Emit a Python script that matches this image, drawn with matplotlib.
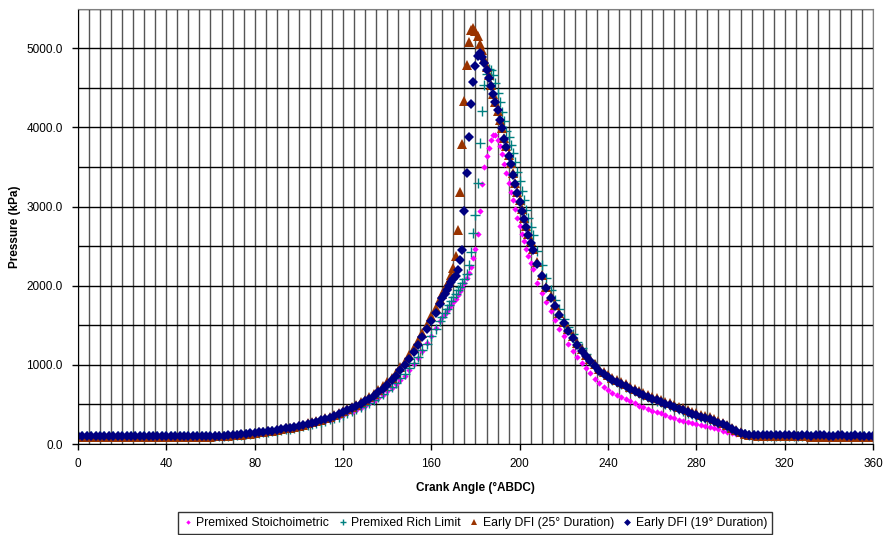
import numpy as np
import matplotlib
matplotlib.use("Agg")
import matplotlib.pyplot as plt
from matplotlib.ticker import MultipleLocator

# =========================================================
# DATA  (pressure in kPa)
# =========================================================

# crank angle: 2 deg steps away from the peak, 1 deg steps around it
ANGLE_LOW = np.arange(0, 165, 2)      # 0 .. 164
ANGLE_PEAK = np.arange(165, 206, 1)   # 165 .. 205
ANGLE_TAIL = np.arange(206, 361, 2)   # 206 .. 360
angle = np.concatenate([ANGLE_LOW, ANGLE_PEAK, ANGLE_TAIL])

labels = [
    "Premixed Stoichoimetric",
    "Premixed Rich Limit",
    "Early DFI (25\u00b0 Duration)",
    "Early DFI (19\u00b0 Duration)",
]

stoich_low = [95, 97, 98, 96, 97, 99, 98, 96, 97, 98, 96, 97, 98, 97, 96, 98,
              97, 96, 98, 97, 96, 98, 97, 96, 97, 98, 96, 97, 98, 99, 100,
              100, 102, 104, 107, 111, 115, 119, 124, 129, 135, 141, 147, 154,
              161, 169, 177, 186, 195, 205, 216, 227, 239, 252, 265, 279, 294,
              310, 327, 345, 365, 386, 409, 433, 459, 487, 517, 550, 585, 623,
              664, 708, 756, 808, 864, 935, 1010, 1090, 1180, 1275, 1370, 1465,
              1560]
stoich_peak = [1600, 1640, 1680, 1720, 1760, 1800, 1835, 1880, 1930, 1990,
               2040, 2100, 2160, 2240, 2350, 2460, 2650, 2950, 3280, 3500,
               3640, 3740, 3840, 3910, 3900, 3840, 3760, 3660, 3540, 3420,
               3300, 3190, 3080, 2970, 2860, 2760, 2660, 2560, 2460, 2370,
               2290]
stoich_tail = [2210, 2040, 1910, 1790, 1680, 1565, 1455, 1360, 1270, 1180,
               1100, 1030, 965, 895, 825, 765, 720, 680, 650, 620, 595, 568,
               542, 515, 485, 462, 442, 422, 403, 386, 366, 346, 326, 308, 292,
               277, 263, 250, 238, 225, 212, 198, 184, 170, 157, 145, 132, 120,
               112, 107, 105,
               104, 103, 105, 104, 103, 102, 104, 103, 102, 101, 103, 102, 101,
               100, 102, 101, 100, 99, 101, 100, 99, 98, 100, 99, 98, 97, 96]

rich_low = [96, 98, 99, 97, 98, 100, 99, 97, 98, 99, 97, 98, 99, 98, 97, 99,
            98, 97, 99, 98, 97, 99, 98, 97, 98, 99, 97, 98, 99, 100, 101,
            101, 103, 105, 108, 112, 116, 120, 125, 130, 136, 142, 148, 155,
            162, 170, 178, 187, 196, 206, 217, 228, 240, 253, 267, 281, 296,
            312, 329, 348, 368, 390, 413, 437, 463, 492, 523, 557, 594, 634,
            677, 724, 775, 830, 890, 960, 1030, 1105, 1185, 1270, 1360, 1450,
            1560]
rich_peak = [1610, 1660, 1710, 1760, 1810, 1855, 1900, 1945, 1990, 2035,
             2080, 2150, 2260, 2430, 2670, 2900, 3300, 3800, 4210, 4530,
             4680, 4740, 4720, 4660, 4560, 4440, 4320, 4200, 4080, 3960,
             3880, 3780, 3680, 3560, 3440, 3320, 3200, 3080, 2960, 2850,
             2740]
rich_tail = [2640, 2440, 2260, 2100, 1950, 1820, 1700, 1585, 1480, 1385,
             1295, 1210, 1135, 1065, 1000, 935, 885, 845, 810, 782, 755, 725,
             695, 665, 640, 615, 592, 570, 548, 525, 505, 485, 462, 440, 418,
             398, 378, 358, 340, 325, 308, 288, 264, 242, 218, 190, 165, 140,
             124, 114, 110,
             108, 109, 108, 107, 108, 107, 106, 108, 107, 106, 107, 106, 105,
             107, 106, 105, 104, 106, 105, 104, 103, 104, 103, 102, 103, 102,
             101]

dfi25_low = [90, 92, 91, 93, 92, 90, 91, 93, 92, 91, 90, 92, 93, 91, 92, 90,
             91, 92, 93, 91, 92, 90, 91, 92, 93, 92, 91, 92, 93, 94, 95,
             97, 99, 102, 106, 110, 115, 120, 126, 132, 139, 146, 153, 161,
             169, 178, 188, 198, 209, 220, 233, 246, 260, 275, 291, 308, 326,
             345, 366, 389, 413, 439, 466, 495, 527, 561, 598, 638, 682, 729,
             781, 838, 900, 968, 1040, 1122, 1210, 1304, 1402, 1505, 1612, 1722,
             1835]
dfi25_peak = [1895, 1955, 2010, 2065, 2130, 2220, 2380, 2700, 3190, 3790,
              4340, 4790, 5085, 5230, 5255, 5220, 5150, 5060, 4980, 4870,
              4770, 4660, 4540, 4420, 4320, 4210, 4100, 3990, 3870, 3760,
              3650, 3550, 3420, 3300, 3190, 3080, 2970, 2860, 2760, 2660,
              2560]
dfi25_tail = [2470, 2300, 2140, 1990, 1870, 1760, 1650, 1545, 1450, 1360,
              1275, 1195, 1130, 1070, 1010, 950, 905, 870, 835, 810, 785, 755,
              725, 695, 670, 645, 625, 600, 580, 555, 535, 515, 495, 470, 450,
              430, 410, 390, 370, 355, 340, 320, 295, 270, 240, 208, 180, 150,
              130, 118, 112,
              108, 107, 106, 108, 105, 104, 103, 102, 101, 99, 98, 96, 95, 94,
              93, 92, 91, 90, 89, 88, 88, 87, 86, 86, 85, 84, 84]

dfi19_low = [98, 100, 101, 99, 100, 102, 100, 99, 101, 100, 98, 100, 101, 100,
             99, 100, 101, 100, 99, 100, 101, 100, 100, 99, 101, 100, 100, 101,
             100, 101, 102,
             103, 105, 107, 111, 115, 119, 124, 129, 135, 141, 147, 154, 161,
             169, 178, 187, 197, 207, 218, 230, 242, 255, 269, 284, 300, 317,
             335, 355, 377, 400, 425, 450, 478, 508, 540, 575, 613, 655, 700,
             750, 805, 865, 930, 1000, 1080, 1165, 1255, 1350, 1450, 1555, 1660,
             1775]
dfi19_peak = [1840, 1900, 1950, 2000, 2045, 2085, 2125, 2200, 2330, 2450,
              2950, 3420, 3880, 4290, 4580, 4780, 4900, 4940, 4890, 4820,
              4720, 4630, 4520, 4420, 4320, 4220, 4100, 3990, 3860, 3750,
              3640, 3540, 3400, 3280, 3170, 3060, 2950, 2840, 2740, 2640,
              2540]
dfi19_tail = [2450, 2280, 2120, 1970, 1850, 1740, 1630, 1525, 1430, 1340,
              1255, 1175, 1110, 1050, 990, 925, 880, 845, 810, 785, 760, 730,
              700, 670, 645, 620, 600, 575, 555, 530, 510, 490, 470, 445, 425,
              405, 385, 365, 345, 330, 315, 295, 270, 250, 225, 195, 170, 145,
              128, 118, 113,
              112, 111, 110, 112, 111, 110, 109, 111, 110, 108, 110, 109, 108,
              110, 111, 109, 108, 107, 109, 110, 108, 107, 109, 108, 107, 106,
              105]

stoich = stoich_low + stoich_peak + stoich_tail
rich = rich_low + rich_peak + rich_tail
dfi25 = dfi25_low + dfi25_peak + dfi25_tail
dfi19 = dfi19_low + dfi19_peak + dfi19_tail

# =========================================================
# STYLE
# =========================================================

plt.rcParams['font.family'] = ['Liberation Sans', 'DejaVu Sans']

series = [
    (stoich, dict(marker='D', color='#FF00FF', markersize=3.2, markeredgewidth=0)),
    (rich, dict(marker='+', color='#008080', markersize=6.5, markeredgewidth=1.0)),
    (dfi25, dict(marker='^', color='#993300', markersize=6.5, markeredgewidth=0)),
    (dfi19, dict(marker='D', color='#000080', markersize=5.0, markeredgewidth=0)),
]

# =========================================================
# PLOT
# =========================================================

fig = plt.figure(figsize=(8.83, 5.35), dpi=100)
ax = fig.add_axes([0.0883, 0.170, 0.9004, 0.8137])

for (values, style), label in zip(series, labels):
    ax.plot(angle, values, linestyle='none', label=label, **style)

ax.set_xlim(0, 360)
ax.set_ylim(0, 5500)

ax.xaxis.set_major_locator(MultipleLocator(40))
ax.xaxis.set_minor_locator(MultipleLocator(5))
ax.yaxis.set_major_locator(MultipleLocator(1000))
ax.yaxis.set_minor_locator(MultipleLocator(500))
ax.yaxis.set_major_formatter(plt.FuncFormatter(lambda v, p: f"{v:.1f}"))

ax.set_axisbelow(True)
ax.grid(True, which='both', axis='x', color='#555555', linewidth=1.0)
ax.grid(True, which='both', axis='y', color='black', linewidth=1.0)

ax.tick_params(axis='both', which='major', direction='out', length=4,
               width=1, labelsize=8.5)
ax.tick_params(axis='x', which='major', pad=6)
ax.tick_params(axis='y', which='major', pad=7)
ax.tick_params(axis='both', which='minor', length=0)

for side in ['left', 'bottom']:
    ax.spines[side].set_color('black')
for side in ['top', 'right']:
    ax.spines[side].set_color('#808080')

ax.set_xlabel("Crank Angle (\u00b0ABDC)", fontsize=8.5, fontweight='bold', labelpad=9)
ax.set_ylabel("Pressure (kPa)", fontsize=8.5, fontweight='bold', labelpad=4)

leg = ax.legend(loc='upper center', bbox_to_anchor=(0.538, 0.043),
                bbox_transform=fig.transFigure, ncol=4, fontsize=8.8,
                frameon=True, fancybox=False, edgecolor='black',
                handlelength=0.8, handletextpad=0.3, columnspacing=0.7,
                borderpad=0.4, borderaxespad=0, markerscale=0.7)
leg.get_frame().set_linewidth(1.0)

plt.savefig("out.png", dpi=100)
